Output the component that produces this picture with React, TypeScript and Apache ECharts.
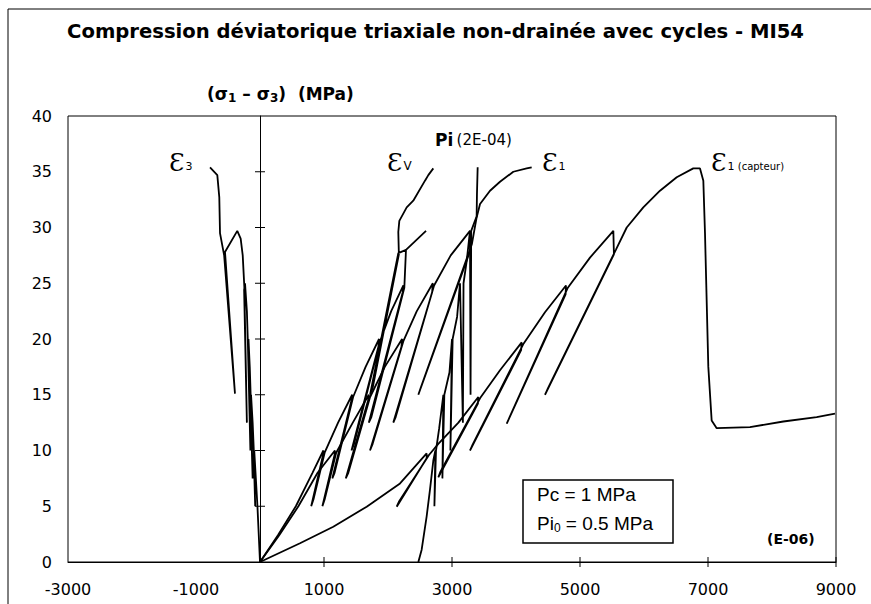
import React, { useEffect, useRef } from "react";
import * as echarts from "echarts";

// ---- Data (strain in 1E-06, deviatoric stress in MPa) ----
const eps3: number[][] = [
  [0, 0], [-20, 2.5], [-40, 5], [-65, 7.5], [-90, 10], [-98, 9.6], [-75, 5], [-95, 9.8],
  [-115, 12.5], [-140, 15], [-150, 14.6], [-115, 7.5], [-145, 14.8], [-160, 17.5], [-180, 20],
  [-188, 19.4], [-150, 10], [-190, 19.8], [-205, 22.5], [-234, 25], [-248, 24.4], [-205, 12.5],
  [-245, 24.7], [-270, 27.5], [-302, 29], [-355, 29.7], [-547, 27.8], [-391, 15.1], [-560, 27.5],
  [-625, 29.5], [-636, 32.7], [-667, 34.7], [-781, 35.4],
];

const epsV: number[][] = [
  [0, 0], [280, 2.4], [560, 5], [820, 8], [990, 10], [985, 9.6], [800, 5], [835, 5.6], [1010, 9.8],
  [1220, 12.5], [1440, 15], [1430, 14.5], [1130, 7.5], [1165, 8], [1455, 14.8], [1650, 17.5],
  [1860, 20], [1850, 19.3], [1430, 10], [1470, 10.6], [1875, 19.8], [2050, 22.5], [2240, 24.8],
  [2230, 24.2], [1700, 12.5], [1740, 13], [2255, 24.6], [2281, 28], [2594, 29.7], [2281, 28],
  [2161, 27.7], [1720, 15], [1760, 15.6], [2170, 27.6], [2161, 29.6], [2177, 30.6], [2292, 31.8],
  [2395, 32.4], [2578, 34.2], [2630, 34.7], [2708, 35.3],
];

const eps1: number[][] = [
  [0, 0], [300, 2.4], [600, 5], [900, 8], [1170, 10], [1165, 9.6], [975, 5], [1010, 5.6],
  [1190, 9.8], [1450, 12.5], [1700, 15], [1690, 14.5], [1340, 7.5], [1380, 8], [1720, 14.8],
  [1950, 17.5], [2220, 20], [2210, 19.3], [1719, 10], [1760, 10.6], [2240, 19.8], [2450, 22.5],
  [2700, 25], [2690, 24.2], [2083, 12.5], [2120, 13], [2720, 24.8], [2980, 27.5], [3281, 29.7],
  [3290, 28], [2474, 15], [2510, 15.6], [3310, 28.5], [3385, 30.9], [3438, 32.1], [3594, 33.3],
  [3750, 34.1], [3958, 35.0], [4167, 35.3], [4245, 35.4],
];

const eps1Capteur: number[][] = [
  [0, 0], [625, 1.68], [1145, 3.16], [1667, 4.96], [2188, 7.05], [2604, 9.74], [2604, 9.3],
  [2136, 4.96], [2170, 5.4], [2640, 9.6], [2786, 10.6], [3100, 12.5], [3411, 14.8], [3405, 14.2],
  [2786, 7.6], [2820, 8.1], [3440, 14.7], [3750, 17.2], [4089, 19.7], [4080, 19], [3281, 10.0],
  [3320, 10.5], [4120, 19.6], [4453, 22.4], [4781, 24.8], [4775, 24], [3855, 12.4], [3900, 13],
  [4810, 24.6], [5156, 27.3], [5521, 29.7], [5530, 27.6], [4453, 15], [4500, 15.6], [5560, 28],
  [5730, 30], [5989, 31.8], [6250, 33.3], [6511, 34.5], [6770, 35.3], [6875, 35.3], [6927, 34.2],
  [6953, 29.5], [7005, 17.5], [7057, 12.7], [7136, 12.0], [7656, 12.1], [8177, 12.6], [8698, 13.0],
  [8984, 13.3],
];

const pi: number[][] = [
  [2474, 0], [2526, 1.1], [2604, 4.1], [2656, 6.5], [2708, 9.1], [2740, 10], [2725, 5.0],
  [2750, 10], [2800, 12], [2865, 15], [2850, 7.5], [2880, 15], [2960, 17], [3000, 20], [2975, 10],
  [3010, 20], [3080, 22], [3125, 25], [3170, 12.5], [3180, 25], [3230, 27], [3281, 29.7],
  [3290, 15], [3300, 29.7], [3385, 31], [3390, 33], [3401, 35.4],
];

const xTickValues = [1000, 3000, 5000, 7000, 9000];
const yTickValues = [5, 10, 15, 20, 25, 30, 35];

const FONT = "DejaVu Sans";
const FONT2 = "Liberation Sans";
const SERIF = "DejaVu Serif";

export default function App() {
  const ref = useRef<HTMLDivElement>(null);
  useEffect(() => {
    if (!ref.current) return;
    const chart = echarts.init(ref.current, undefined, { renderer: "svg" });
    const lineStyle = { color: "#000", width: 1.8 };
    const curve = (name: string, data: number[][]) => ({
      name,
      type: "line",
      data,
      showSymbol: false,
      symbol: "none",
      lineStyle,
      silent: true,
    });
    const epsLabel = (left: number, sub: string, subSize: number) => ({
      type: "text", left, top: 150,
      style: {
        text: `{e|Ɛ}{s|${sub}}`,
        rich: {
          e: { fontFamily: SERIF, fontSize: 25, fill: "#000" },
          s: { fontFamily: FONT, fontSize: subSize, fill: "#000", padding: [7, 0, 0, 1] },
        },
      },
    });
    chart.setOption({
      animation: false,
      backgroundColor: "#fff",
      title: {
        text: "Compression déviatorique triaxiale non-drainée avec cycles - MI54",
        left: "center",
        top: 16,
        textStyle: { fontFamily: FONT, fontSize: 19.6, fontWeight: "bold", color: "#000" },
      },
      grid: {
        left: 68, right: 35, top: 116, bottom: 42,
        show: true, borderColor: "#000", borderWidth: 1, backgroundColor: "transparent",
      },
      xAxis: {
        type: "value", min: -3000, max: 9000, interval: 1000,
        axisLine: { show: true, onZero: false, lineStyle: { color: "#000", width: 1 } },
        axisTick: { show: false },
        splitLine: { show: false },
        axisLabel: {
          color: "#000", fontFamily: FONT, fontSize: 16, margin: 19,
          formatter: (v: number) => (Math.abs(v) % 2000 === 1000 ? String(v) : ""),
        },
      },
      yAxis: {
        type: "value", min: 0, max: 40, interval: 5,
        axisLine: { show: true, lineStyle: { color: "#000", width: 1 } },
        axisTick: { show: false },
        splitLine: { show: false },
        axisLabel: { color: "#000", fontFamily: FONT, fontSize: 16, margin: 16 },
      },
      series: [
        {
          type: "custom",
          silent: true,
          data: xTickValues.map((v) => [v, 0]),
          renderItem: (_p: any, api: any) => {
            const pt = api.coord([api.value(0), 0]);
            return {
              type: "line",
              shape: { x1: pt[0], y1: pt[1] - 5, x2: pt[0], y2: pt[1] + 5 },
              style: { stroke: "#000", lineWidth: 1 },
            };
          },
        },
        {
          type: "custom",
          silent: true,
          data: yTickValues.map((v) => [0, v]),
          renderItem: (_p: any, api: any) => {
            const pt = api.coord([0, api.value(1)]);
            return {
              type: "line",
              shape: { x1: pt[0] - 5, y1: pt[1], x2: pt[0] + 5, y2: pt[1] },
              style: { stroke: "#000", lineWidth: 1 },
            };
          },
          markLine: {
            silent: true, symbol: "none", label: { show: false },
            lineStyle: { color: "#000", width: 1, type: "solid" },
            data: [{ xAxis: 0 }],
          },
        },
        curve("e3", eps3),
        curve("ev", epsV),
        curve("e1", eps1),
        curve("e1c", eps1Capteur),
        curve("pi", pi),
      ],
      graphic: [
        {
          type: "rect", silent: true,
          shape: { x: 8, y: 9, width: 1000, height: 800 },
          style: { fill: "none", stroke: "#000", lineWidth: 1 },
        },
        {
          type: "text", left: 207, top: 85,
          style: {
            text: "{a|(σ}{s|1}{a| – σ}{s|3}{a|)  (MPa)}",
            rich: {
              a: { fontFamily: FONT, fontSize: 17, fontWeight: "bold", fill: "#000" },
              s: { fontFamily: FONT, fontSize: 12, fontWeight: "bold", fill: "#000", padding: [8, 0, 0, 0] },
            },
          },
        },
        epsLabel(169, "3", 11),
        epsLabel(387, "V", 12),
        epsLabel(542, "1", 11),
        {
          type: "text", left: 711, top: 150,
          style: {
            text: "{e|Ɛ}{s|1}{c| (capteur)}",
            rich: {
              e: { fontFamily: SERIF, fontSize: 25, fill: "#000" },
              s: { fontFamily: FONT, fontSize: 11, fill: "#000", padding: [7, 0, 0, 1] },
              c: { fontFamily: FONT, fontSize: 10, fill: "#000", padding: [7, 0, 0, 0] },
            },
          },
        },
        {
          type: "text", left: 435, top: 131,
          style: {
            text: "{b|Pi} {n|(2E-04)}",
            rich: {
              b: { fontFamily: FONT, fontSize: 17, fontWeight: "bold", fill: "#000" },
              n: { fontFamily: FONT, fontSize: 15, fill: "#000" },
            },
          },
        },
        {
          type: "rect", silent: true,
          shape: { x: 523, y: 480, width: 150, height: 63 },
          style: { fill: "#fff", stroke: "#000", lineWidth: 1.5 },
        },
        {
          type: "text", left: 537, top: 485,
          style: { text: "Pc = 1 MPa", font: `19px ${FONT2}`, fill: "#000" },
        },
        {
          type: "text", left: 537, top: 514,
          style: {
            text: "{a|Pi}{s|0}{a| = 0.5 MPa}",
            rich: {
              a: { fontFamily: FONT2, fontSize: 19, fill: "#000" },
              s: { fontFamily: FONT2, fontSize: 12, fill: "#000", padding: [8, 0, 0, 0] },
            },
          },
        },
        {
          type: "text", left: 767, top: 532,
          style: { text: "(E-06)", font: `bold 14px ${FONT}`, fill: "#000" },
        },
      ],
    });
    return () => chart.dispose();
  }, []);
  return (
    <div
      ref={ref}
      style={{ position: "absolute", left: 0, top: 0, width: 871, height: 604 }}
    />
  );
}
